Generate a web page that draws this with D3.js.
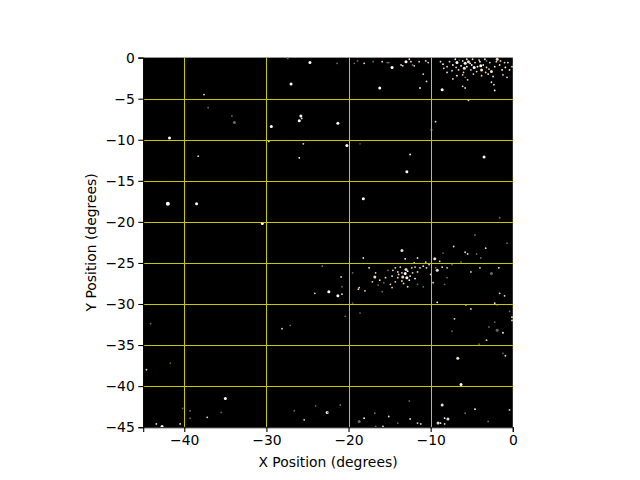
<!DOCTYPE html>
<html><head><meta charset="utf-8">
<script src="https://cdn.jsdelivr.net/npm/d3@7"></script>
<style>body{margin:0;background:#fff}svg{display:block}text{font-family:"DejaVu Sans",sans-serif}</style>
</head><body><svg id="c" width="640" height="480"></svg>
<script>
const xTicks=[-40,-30,-20,-10,0];
const yTicks=[0,-5,-10,-15,-20,-25,-30,-35,-40,-45];
const xGrid=[-40,-30,-20,-10];
const yGrid=[-5,-10,-15,-20,-25,-30,-35,-40];
// star positions (degrees), size class and tint class
const starX=[-27.4,-24.7,-21.4,-27.0,-37.6,-37.1,-34.2,-33.9,-25.8,-25.7,-26.0,-29.4,-21.3,-41.8,-29.7,-25.5,-38.3,-26.0,-42.0,-38.5,-30.5,-23.2,-20.9,-20.8,-24.1,-22.4,-21.3,-20.8,-44.1,-28.1,-27.1,-41.7,-44.6,-35.0,-40.2,-39.3,-39.3,-37.2,-35.5,-43.4,-42.7,-40.5,-26.6,-25.4,-24.0,-22.6,-21.0,
-20.2,-18.6,-12.5,-3.5,-12.9,-18.2,-1.6,-4.6,-9.4,-9.9,-5.4,-16.2,-11.3,-10.9,-10.5,-8.6,-5.8,-2.3,-2.2,-2.6,
-18.9,-18.1,-17.0,-15.9,-15.3,-15.1,-14.7,-13.6,-13.4,-13.0,-12.6,-12.4,-12.2,-12.0,-11.4,-19.3,-10.6,-10.3,
-8.8,-8.5,-8.4,-8.0,-8.0,-7.4,-7.3,-6.9,-6.8,-6.6,-6.3,-6.1,-5.8,-5.6,-5.6,-5.4,-5.1,-5.0,-4.9,-4.7,-4.6,-4.4,-4.3,-4.0,-3.8,-3.6,-3.4,-3.2,-3.0,-2.8,-2.6,-2.4,-2.2,-1.9,-1.6,-1.3,-1.2,-0.9,-0.6,-0.4,-0.1,-6.1,-5.8,-5.5,-6.8,-7.3,-3.8,-6.1,-7.7,-3.2,-1.0,
-13.5,-18.2,-13.1,-11.6,-10.6,-9.5,-8.9,-17.5,-16.7,-16.8,-15.2,-14.7,-14.3,-14.0,-13.7,-13.5,-13.4,-13.1,-12.9,-12.8,-12.5,-12.3,-12.2,-11.9,-11.6,-11.3,-10.9,-10.5,-10.2,-9.4,-9.2,-8.6,-14.0,-13.5,-14.3,-14.7,-12.8,-11.6,-10.9,-16.2,-16.4,-17.1,-15.7,-18.7,-18.0,-15.9,-9.7,-19.5,-18.8,-8.5,
-7.2,-5.8,-5.5,-4.4,-3.9,-6.3,-3.3,-0.7,-7.4,-8.0,-4.0,-2.6,-1.7,-8.0,-5.1,-8.3,-1.6,-1.0,-5.7,-2.2,-1.9,-5.1,-0.4,-0.1,-0.1,-7.1,-2.9,-2.2,-7.4,-1.9,-1.2,-3.2,-4.1,-1.2,-0.9,-6.7,-6.3,-9.2,-18.6,-20.4,-19.5,
-12.6,-16.8,-15.1,-8.6,-4.6,-18.7,-18.1,-16.7,-15.8,-14.0,-12.5,-11.6,-11.2,-9.1,-8.8,-8.3,-7.9,-8.3,-3.0,-0.4,-5.8,-22.5,
-6.5,-5.9,-5.2,-4.1,-3.9,-2.9,-2.0,-7.0,-4.8,-6.0,-3.3,-1.5,-0.7,
-13.9,-13.0,-12.6,-14.6,-11.9,-13.3,-15.5,-12.0,-10.0,-14.9];
const starY=[-0.1,-0.6,-0.7,-3.2,-4.5,-6.1,-7.1,-7.9,-7.1,-7.4,-7.7,-8.4,-8.0,-9.8,-10.2,-10.5,-12.0,-12.2,-17.8,-17.8,-20.2,-25.4,-26.7,-27.9,-28.7,-28.5,-29.0,-28.8,-32.4,-33.0,-32.6,-37.2,-38.0,-41.5,-42.7,-43.0,-43.9,-43.8,-43.2,-44.6,-44.9,-44.6,-43.0,-44.1,-42.4,-43.2,-42.3,
-10.7,-10.5,-11.8,-12.1,-13.9,-17.2,-19.5,-21.6,-7.8,-8.8,-5.2,-3.7,-3.7,-2.0,-2.9,-3.9,-3.7,-3.3,-4.0,-3.0,
-0.4,-0.7,-0.5,-0.5,-0.6,-0.6,-1.2,-0.9,-1.0,-0.5,-0.2,-0.5,-0.9,-1.0,-0.5,-0.7,-0.4,-0.6,
-0.5,-0.8,-1.3,-1.1,-1.8,-1.6,-0.9,-1.2,-0.6,-1.5,-1.0,-0.4,-0.7,-0.2,-1.1,-0.5,-1.5,-0.9,-0.2,-1.2,-0.6,-1.7,-1.1,-0.5,-1.5,-0.9,-0.2,-1.2,-2.0,-0.6,-1.7,-2.3,-1.1,-0.2,-0.9,-1.5,-2.1,-1.2,-0.6,-1.5,-1.1,-2.1,-2.4,-2.7,-2.2,-2.6,-2.2,-3.5,-0.5,-0.4,-0.6,
-23.5,-24.4,-24.5,-24.4,-24.9,-24.5,-24.8,-25.6,-26.2,-26.7,-25.9,-26.6,-25.6,-26.1,-25.5,-26.2,-26.7,-26.3,-26.8,-26.0,-26.6,-25.6,-26.2,-25.5,-26.1,-25.6,-25.4,-25.6,-25.2,-25.6,-25.9,-25.5,-26.8,-27.2,-27.3,-28.0,-27.9,-27.6,-27.9,-27.1,-27.7,-27.3,-27.4,-28.0,-28.4,-28.5,-27.4,-26.2,-28.2,-23.8,
-23.0,-23.7,-23.9,-23.9,-24.4,-24.9,-23.2,-22.6,-25.2,-25.6,-25.6,-26.3,-25.6,-26.8,-26.1,-27.6,-28.7,-29.0,-30.1,-29.9,-30.1,-30.6,-30.9,-31.6,-32.0,-31.8,-32.8,-32.2,-33.3,-33.2,-33.5,-34.4,-34.9,-36.0,-36.3,-36.6,-39.8,-29.8,-31.1,-31.5,-29.9,
-41.8,-43.3,-43.7,-42.3,-42.8,-44.3,-43.9,-44.9,-44.9,-44.5,-44.0,-44.5,-44.6,-44.5,-44.5,-44.6,-44.0,-43.9,-44.3,-42.9,-43.3,-43.2,
-0.3,-1.3,-0.7,-0.3,-1.0,-1.4,-0.5,-0.2,-2.0,-1.8,-1.8,-0.4,-2.4,
-26.4,-25.8,-27.1,-25.9,-26.9,-27.5,-26.8,-25.0,-26.4,-27.6];
const starSize=[1,2,1,2,1,1,1,2,2,1,2,2,2,2,1,1,1,1,3,2,2,1,1,1,1,2,2,1,1,1,1,1,1,2,1,1,1,1,1,1,2,1,1,1,1,2,1,
2,1,1,2,2,2,1,1,1,1,1,2,1,1,1,2,1,1,1,1,
1,1,1,1,1,1,2,1,1,2,1,1,1,1,1,1,1,1,
1,1,1,1,1,1,1,1,2,1,1,1,2,1,1,2,1,1,1,2,1,1,1,1,2,1,1,1,1,1,2,1,1,2,1,1,1,1,1,1,1,1,1,1,1,1,1,1,1,1,1,
2,1,1,1,1,2,1,1,1,2,1,1,1,1,1,1,2,2,2,1,1,1,1,1,1,1,1,1,1,1,2,1,1,1,1,1,1,1,1,1,1,1,1,1,1,1,1,1,1,1,
1,1,1,1,1,1,1,1,1,1,1,2,1,1,1,1,1,1,1,1,1,1,1,1,1,1,1,1,1,2,1,1,1,1,1,2,2,1,1,1,1,
1,1,1,2,1,2,1,1,1,1,1,1,1,2,1,1,2,1,1,1,1,1,
1,2,1,1,2,1,1,1,1,1,1,1,1,
1,2,1,1,1,1,1,1,1,1];
const starTint="gwgwbgggwbwwwwbbbwwwwgbgbwwbgbgrbwgggbgbwbgbgwg"+
"wrwwwwggbbbwwbbwbbwb"+
"gbgbggwbbwbbgbbgbb"+
"bwbbbuwbwbwbwbwbuwbwbbwwbbwbwbbbwbbwbwbbubgbwbbbbgbbb"+
"wbbbbwbbgwbbbbbwwwwbbbbbbbbgbwbbbbbggbgbgbbgbgbgb"+
"bbgggbggbbgwgbgbbwbgbgbbbggggwbggbbwwggrg"+
"gbbwgwgbgbbbbwbbwgbgrr"+
"bwbwbbwbbbbbb"+
"bwbwbbbbbb";
const tintColor={w:"#ffffff",b:"#f2dcc4",g:"#6f6a66",u:"#b8d4ff",r:"#7a4a3c"};
const sizeR={1:0.9,2:1.5,3:2.0};

const svg=d3.select("#c");
const L=143.2,R=512.8,T=57.6,B=427.2;
const x=d3.scaleLinear().domain([-45,0]).range([L,R]);
const y=d3.scaleLinear().domain([-45,0]).range([B,T]);

svg.append("rect").attr("x",L).attr("y",T).attr("width",R-L).attr("height",B-T).attr("fill","#000");

const g=svg.append("g");
g.selectAll("circle").data(starX.map((v,i)=>i)).enter().append("circle")
 .attr("cx",i=>x(starX[i])).attr("cy",i=>y(starY[i]))
 .attr("r",i=>sizeR[starSize[i]])
 .attr("fill",i=>tintColor[starTint[i]]||"#f2dcc4");

svg.append("g").selectAll("line").data(xGrid).enter().append("line")
 .attr("x1",d=>Math.round(x(d))+0.5).attr("x2",d=>Math.round(x(d))+0.5).attr("y1",T).attr("y2",B)
 .attr("stroke","#c8c800").attr("stroke-width",1);
svg.append("g").selectAll("line").data(yGrid).enter().append("line")
 .attr("y1",d=>Math.round(y(d))+0.5).attr("y2",d=>Math.round(y(d))+0.5).attr("x1",L).attr("x2",R)
 .attr("stroke","#c8c800").attr("stroke-width",1);

const fmt=d=>d<0?"\u2212"+Math.abs(d):String(d);
const xa=svg.append("g").attr("transform",`translate(0,${B})`)
 .call(d3.axisBottom(x).tickValues(xTicks).tickFormat(fmt).tickSize(4.9).tickPadding(3.5));
const ya=svg.append("g").attr("transform",`translate(${L},0)`)
 .call(d3.axisLeft(y).tickValues(yTicks).tickFormat(fmt).tickSize(4.9).tickPadding(3.5));
[xa,ya].forEach(a=>{a.select(".domain").attr("stroke","#000").attr("stroke-width",1.1);
 a.selectAll(".tick line").attr("stroke","#000").attr("stroke-width",1.1);
 a.selectAll("text").attr("font-family","DejaVu Sans").attr("font-size","13.9px").attr("fill","#000");});

svg.append("text").attr("x",(L+R)/2).attr("y",467).attr("text-anchor","middle")
 .attr("font-size","13.9px").text("X Position (degrees)");
svg.append("text").attr("transform",`translate(96,${(T+B)/2}) rotate(-90)`).attr("text-anchor","middle")
 .attr("font-size","13.9px").text("Y Position (degrees)");
</script></body></html>
